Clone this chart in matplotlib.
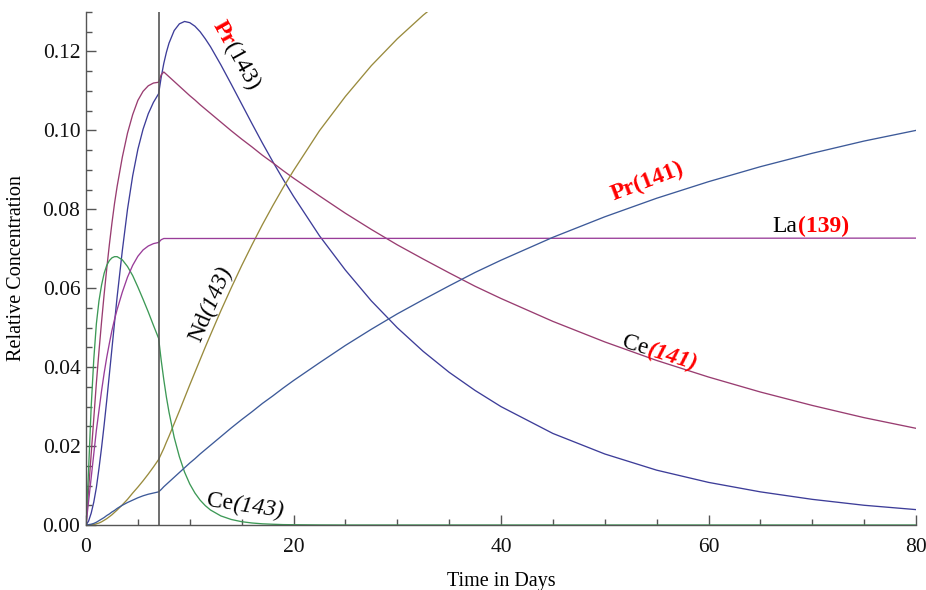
import numpy as np
import matplotlib
matplotlib.use("Agg")
import matplotlib.pyplot as plt
import matplotlib.transforms as mtransforms
from matplotlib.ticker import MultipleLocator

plt.rcParams['font.family'] = ['Liberation Serif', 'DejaVu Serif']

#-------------------------------------------------------------
# sample times (days); irradiation stops at day 7
days = [0, 0.25, 0.5, 0.75, 1, 1.25, 1.5, 1.75, 2, 2.25, 2.5, 2.75, 3,
        3.5, 4, 4.5, 5, 5.5, 6, 6.5, 7,
        7.25, 7.5, 7.75,
        8, 8.5, 9, 9.5, 10, 10.5, 11, 11.5, 12,
        13, 14, 15, 16, 17, 18, 19, 20,
        22.5, 25, 27.5, 30, 32.5, 35, 37.5, 40,
        45, 50, 55, 60, 65, 70, 75, 80]
t_stop = 7

pr143 = [0, 0.001, 0.003, 0.0058, 0.0095, 0.0143, 0.0196, 0.0254, 0.0316, 0.0381, 0.0447, 0.0513, 0.0578,
         0.0695, 0.0800, 0.0885, 0.0952, 0.1003, 0.1042, 0.1071, 0.1093,
         0.1135, 0.1170, 0.1198,
         0.1221, 0.1253, 0.1270, 0.1276, 0.1273, 0.1264, 0.1250, 0.1232, 0.1212,
         0.1166, 0.1117, 0.1067, 0.1017, 0.0968, 0.0921, 0.0876, 0.0833,
         0.0733, 0.0646, 0.0568, 0.0500, 0.0440, 0.0387, 0.0341, 0.0300,
         0.0232, 0.0180, 0.0139, 0.0108, 0.0084, 0.0065, 0.0050, 0.0039]

ce141 = [0, 0.009, 0.018, 0.027, 0.036, 0.044, 0.0515, 0.0585, 0.065, 0.071, 0.0765, 0.0815, 0.0858,
         0.0932, 0.0993, 0.1040, 0.1076, 0.1099, 0.1113, 0.1120, 0.1122,
         0.1141, 0.1148, 0.1142,
         0.1136, 0.1124, 0.1112, 0.1100, 0.1088, 0.1077, 0.1065, 0.1054, 0.1043,
         0.1021, 0.0999, 0.0978, 0.0958, 0.0937, 0.0918, 0.0898, 0.0879,
         0.0834, 0.0790, 0.0749, 0.0710, 0.0674, 0.0639, 0.0605, 0.0574,
         0.0516, 0.0464, 0.0417, 0.0375, 0.0337, 0.0303, 0.0272, 0.0245]

# Nd(143) leaves the top of the plot after ~33 days
nd143 = [0, 0, 0.0001, 0.0001, 0.0003, 0.0005, 0.0008, 0.0012, 0.0016, 0.0021, 0.0026, 0.0032, 0.0038,
         0.0051, 0.0065, 0.0081, 0.0096, 0.0112, 0.0129, 0.0147, 0.0166,
         0.0180, 0.0194, 0.0210,
         0.0225, 0.0257, 0.0289, 0.0322, 0.0355, 0.0387, 0.0419, 0.0451, 0.0482,
         0.0543, 0.0601, 0.0657, 0.0710, 0.0761, 0.0809, 0.0855, 0.0898,
         0.0999, 0.1086, 0.1164, 0.1232, 0.1292, 0.1345]

# Ce(143) is gone after ~25 days
ce143 = [0, 0.014, 0.030, 0.042, 0.051, 0.0568, 0.0608, 0.0638, 0.0658, 0.0670, 0.0677, 0.0680, 0.0680,
         0.0672, 0.0655, 0.0632, 0.0603, 0.0572, 0.0540, 0.0506, 0.0473,
         0.0417, 0.0368, 0.0324,
         0.0286, 0.0222, 0.0173, 0.0134, 0.0104, 0.0081, 0.0063, 0.0049, 0.0038,
         0.0023, 0.0014, 0.00084, 0.00051, 0.0003, 0.00019, 0.0001, 0.00007,
         0.00002, 0]
ce143_tail = 0

# La(139) stays flat once the short-lived parent has decayed
la139 = [0, 0.006, 0.012, 0.018, 0.024, 0.029, 0.034, 0.0385, 0.0425, 0.046, 0.0493, 0.0521, 0.0546,
         0.059, 0.0628, 0.0658, 0.0681, 0.0697, 0.0707, 0.0713, 0.0716,
         0.0723, 0.0726]
la139_tail = 0.0727

pr141 = [0, 0.0001, 0.0002, 0.0004, 0.0007, 0.0011, 0.0015, 0.0019, 0.0024, 0.0028, 0.0033, 0.0037, 0.0042,
         0.0050, 0.0057, 0.0063, 0.0069, 0.0074, 0.0078, 0.0081, 0.0084,
         0.0090, 0.0097, 0.0103,
         0.0109, 0.0121, 0.0133, 0.0145, 0.0157, 0.0168, 0.0180, 0.0191, 0.0202,
         0.0224, 0.0246, 0.0267, 0.0287, 0.0308, 0.0327, 0.0347, 0.0366,
         0.0411, 0.0455, 0.0496, 0.0535, 0.0571, 0.0606, 0.0640, 0.0671,
         0.0729, 0.0781, 0.0828, 0.0870, 0.0908, 0.0942, 0.0973, 0.1000]

x_ticks = [0, 20, 40, 60, 80]
y_ticks = [0.00, 0.02, 0.04, 0.06, 0.08, 0.10, 0.12]

#-------------------------------------------------------------
def with_tail(values, tail):
    ''' extend a curve to the last day with its settled value '''
    t = days[:len(values)]
    if tail is None:
        return t, values
    return t + [days[-1]], values + [tail]
#end-def

series = [
    (with_tail(pr143, None), '#3d3d99'),
    (with_tail(ce141, None), '#993d71'),
    (with_tail(nd143, None), '#998b3d'),
    (with_tail(ce143, ce143_tail), '#3d9956'),
    (with_tail(la139, la139_tail), '#993d99'),
    (with_tail(pr141, None), '#3d5a99'),
]

#-------------------------------------------------------------
def draw_label(ax, x, y, parts, angle):
    ''' parts - list of (text, style); drawn one after another along angle '''
    fig = ax.figure
    renderer = fig.canvas.get_renderer()
    rad = np.deg2rad(angle)
    offset = 0.0
    for text, style in parts:
        tr = mtransforms.offset_copy(ax.transData, fig=fig,
                                     x=offset*np.cos(rad), y=offset*np.sin(rad),
                                     units='dots')
        t = ax.text(x, y, text, transform=tr, ha='left', va='baseline',
                    rotation=0, rotation_mode='anchor', clip_on=False, **style)
        offset += t.get_window_extent(renderer).width
        t.set_rotation(angle)
#end-def

red_b = dict(color='red', fontweight='bold', fontsize=17)
red_bi = dict(color='red', fontweight='bold', fontstyle='italic', fontsize=17)
blk = dict(color='black', fontsize=17)
blk_i = dict(color='black', fontstyle='italic', fontsize=17)

#-------------------------------------------------------------
fig = plt.figure(figsize=(9.26, 5.90), dpi=100)
ax = fig.add_axes([86/926, 1 - 525/590, 830/926, 513/590])

for (t, values), color in series:
    ax.plot(t, values, color=color, lw=0.95)

ax.axvline(t_stop, color='#555555', lw=1.2)

ax.set_xlim(0, 80)
ax.set_ylim(0, 0.13)
ax.set_xticks(x_ticks)
ax.set_yticks(y_ticks)
ax.set_yticklabels([f"{v:.2f}" for v in y_ticks])
ax.xaxis.set_minor_locator(MultipleLocator(5))
ax.yaxis.set_minor_locator(MultipleLocator(0.005))

for side in ['top', 'right']:
    ax.spines[side].set_visible(False)
for side in ['left', 'bottom']:
    ax.spines[side].set_color('#555555')
    ax.spines[side].set_linewidth(1.0)

ax.tick_params(which='both', direction='in', color='#555555', width=1.0,
               labelsize=15.5, labelcolor='#111111')
ax.tick_params(which='major', length=7.5)
ax.tick_params(which='minor', length=4.2)
ax.tick_params(axis='x', which='major', pad=9)
ax.tick_params(axis='y', which='major', pad=4)

ax.set_xlabel("Time in Days", fontsize=14.5, labelpad=11)
ax.set_ylabel("Relative Concentration", fontsize=14.5, labelpad=12)

#-------------------------------------------------------------
draw_label(ax, 12.2, 0.1268, [("Pr", red_b), ("(143)", blk)], -61)
draw_label(ax, 11.0, 0.0460, [("Nd", blk), ("(143)", blk_i)], 67)
draw_label(ax, 11.6, 0.0048, [("Ce", blk), ("(143)", blk_i)], -8)
draw_label(ax, 50.9, 0.0822, [("Pr(141)", red_b)], 21)
draw_label(ax, 66.2, 0.0743, [("La", blk), ("(139)", red_b)], 0)
draw_label(ax, 51.6, 0.0450, [("Ce", blk), ("(141)", red_bi)], -17)

fig.savefig("out.png", dpi=100)
